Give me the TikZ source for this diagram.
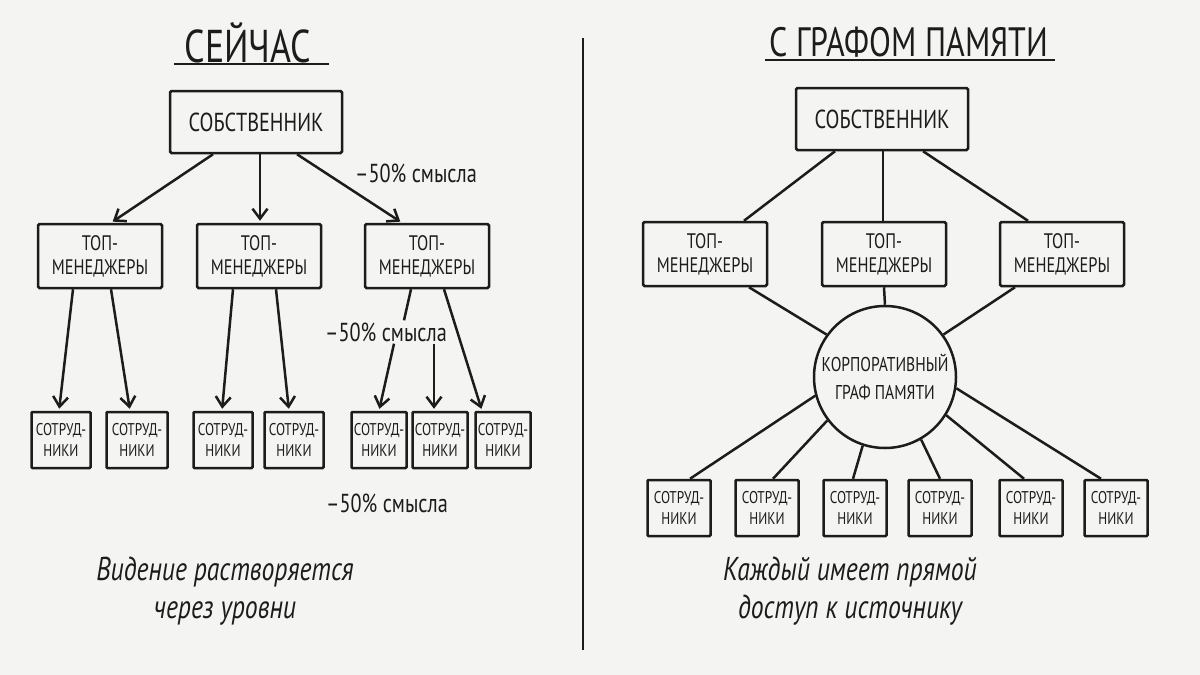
\documentclass[tikz,border=0pt]{standalone}
\usepackage{fontspec}
\setmainfont{PT Sans}[FakeStretch=0.78]
\usetikzlibrary{arrows.meta}
\definecolor{paper}{RGB}{244,244,242}
\definecolor{ink}{RGB}{28,28,28}

\begin{document}
\begin{tikzpicture}[
      x=1pt, y=-1pt, color=ink, line width=2.5pt,
      ttl/.style={font=\fontsize{41}{44}\selectfont, inner sep=0pt},
      own/.style={draw, rounded corners=1.5pt, minimum width=172pt, minimum height=62pt, font=\fontsize{26}{28}\selectfont},
      mgr/.style={draw, rounded corners=1.5pt, align=center, minimum width=124pt, minimum height=64pt, inner sep=1pt, font=\fontsize{21}{24}\selectfont},
      emp/.style={draw, rounded corners=1pt, align=center, minimum width=59pt, minimum height=56pt, inner sep=1pt, font=\fontsize{17}{21}\selectfont},
      hub/.style={draw, circle, align=center, minimum size=142pt, inner sep=0pt, font=\fontsize{20}{28}\selectfont},
      ar/.style={-{Straight Barb[length=10pt,width=15pt]}, shorten >=2pt},
      note/.style={font=\fontsize{26}{28}\selectfont, inner sep=1pt},
      capt/.style={align=center, font=\itshape\fontsize{33}{38}\selectfont}
    ]
    \fill[paper] (0,0) rectangle (1200,675);
    \useasboundingbox (0,0) rectangle (1200,675);

    % ===== left half: now =====
    \node[ttl, font=\fontsize{46}{48}\selectfont] (nowT) at (248,43) {СЕЙЧАС};
    \draw (174,64) -- (329,64);
    \node[own] (ownL) at (256,122) {СОБСТВЕННИК};
    \node[mgr] (mgrL1) at (100,256) {ТОП-\\МЕНЕДЖЕРЫ};
    \node[mgr] (mgrL2) at (259,256) {ТОП-\\МЕНЕДЖЕРЫ};
    \node[mgr] (mgrL3) at (427,256) {ТОП-\\МЕНЕДЖЕРЫ};
    \node[emp] (empL1) at (61,440) {СОТРУД-\\НИКИ};
    \node[emp, minimum width=61pt] (empL2) at (137,440) {СОТРУД-\\НИКИ};
    \node[emp] (empL3) at (223,440) {СОТРУД-\\НИКИ};
    \node[emp] (empL4) at (294,440) {СОТРУД-\\НИКИ};
    \node[emp, minimum width=55pt] (empL5) at (379,440) {СОТРУД-\\НИКИ};
    \node[emp, minimum width=55pt] (empL6) at (440,440) {СОТРУД-\\НИКИ};
    \node[emp, minimum width=55pt] (empL7) at (503,440) {СОТРУД-\\НИКИ};
    \node[note] (lossA) at (416,173) {–50\% смысла};
    \node[note] (lossB) at (386,332) {–50\% смысла};
    \node[note] (lossC) at (387,503) {–50\% смысла};

    \draw[ar] ([xshift=-43]ownL.south) -- ([xshift=11]mgrL1.north);
    \draw[ar] ([xshift=4]ownL.south) -- ([xshift=1]mgrL2.north);
    \draw[ar] ([xshift=41]ownL.south) -- ([xshift=-25]mgrL3.north);
    \draw[ar] ([xshift=-27]mgrL1.south) -- ([xshift=-2]empL1.north);
    \draw[ar] ([xshift=11]mgrL1.south) -- ([xshift=-7]empL2.north);
    \draw[ar] ([xshift=-26]mgrL2.south) -- ([xshift=-1]empL3.north);
    \draw[ar] ([xshift=17]mgrL2.south) -- ([xshift=-5]empL4.north);
    \draw ([xshift=-16]mgrL3.south) -- ([xshift=18]lossB.north);  % broken by the label
    \draw[ar] ([xshift=8]lossB.south) -- (empL5.north);
    \draw[ar] ([xshift=48]lossB.south) -- ([xshift=-6]empL6.north);
    \draw[ar] ([xshift=17]mgrL3.south) -- ([xshift=-21]empL7.north);

    \node[capt] (sumL) at (225,591) {Видение растворяется\\через уровни};

    % ===== divider =====
    \draw (583,38) -- (583,650);

    % ===== right half: with memory graph =====
    \node[ttl] (memT) at (909,42) {С ГРАФОМ ПАМЯТИ};
    \draw (765,60) -- (1055,60);
    \node[own] (ownR) at (882,119) {СОБСТВЕННИК};
    \node[mgr] (mgrR1) at (705,254) {ТОП-\\МЕНЕДЖЕРЫ};
    \node[mgr] (mgrR2) at (884,254) {ТОП-\\МЕНЕДЖЕРЫ};
    \node[mgr] (mgrR3) at (1062,254) {ТОП-\\МЕНЕДЖЕРЫ};
    \node[hub] (hub) at (885,377) {КОРПОРАТИВНЫЙ\\ГРАФ ПАМЯТИ};
    \node[emp, minimum width=63pt] (empR1) at (679,508) {СОТРУД-\\НИКИ};
    \node[emp, minimum width=63pt] (empR2) at (767,508) {СОТРУД-\\НИКИ};
    \node[emp, minimum width=63pt] (empR3) at (855,508) {СОТРУД-\\НИКИ};
    \node[emp, minimum width=63pt] (empR4) at (940,508) {СОТРУД-\\НИКИ};
    \node[emp, minimum width=63pt] (empR5) at (1031,508) {СОТРУД-\\НИКИ};
    \node[emp, minimum width=63pt] (empR6) at (1116,508) {СОТРУД-\\НИКИ};

    \draw ([xshift=-47]ownR.south) -- ([xshift=39]mgrR1.north);
    \draw ([xshift=1]ownR.south) -- ([xshift=-1]mgrR2.north);
    \draw ([xshift=41]ownR.south) -- ([xshift=-34]mgrR3.north);
    \draw ([xshift=44]mgrR1.south) -- (hub.144);
    \draw (mgrR2.south) -- (hub.north);
    \draw ([xshift=-47]mgrR3.south) -- (hub.36);
    \draw (hub.195) -- ([xshift=11]empR1.north);
    \draw (hub.217) -- ([xshift=6]empR2.north);
    \draw (hub.252) -- ([xshift=-2]empR3.north);
    \draw (hub.300) -- (empR4.north);
    \draw (hub.328) -- ([xshift=-7]empR5.north);
    \draw (hub.351) -- ([xshift=-15]empR6.north);

    \node[capt] (sumR) at (850,591) {Каждый имеет прямой\\доступ к источнику};
\end{tikzpicture}
\end{document}
